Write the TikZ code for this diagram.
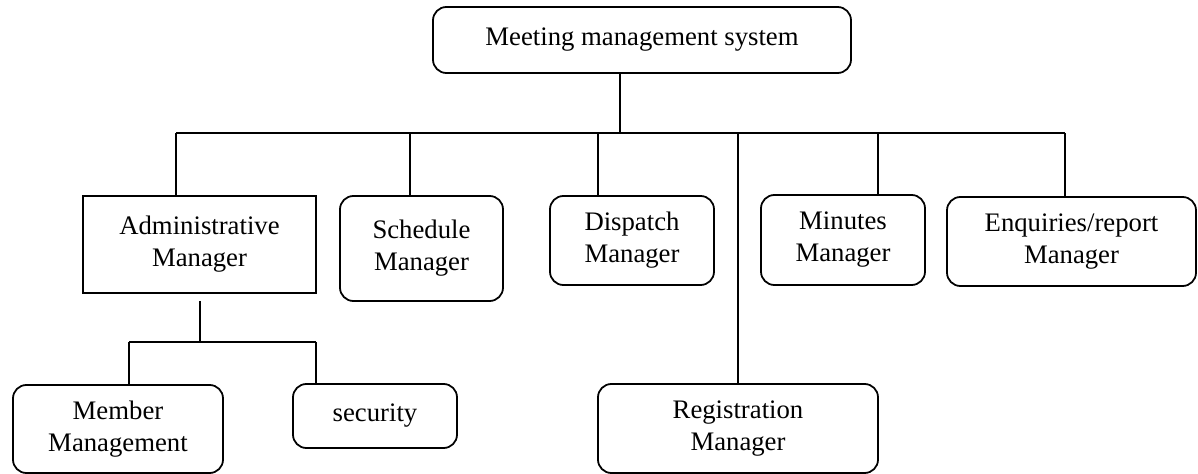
\documentclass[tikz,border=0pt]{standalone}
\usepackage{fontspec}
\setmainfont{Liberation Serif}

\begin{document}
\begin{tikzpicture}[
		x=0.449pt, y=-0.449pt,
		base/.style = {draw, line width=0.8pt, font=\fontsize{12}{14.4}\selectfont, align=center, inner sep=0pt},
		node/.style = {rectangle, base},
		rnode/.style = {rectangle, rounded corners=6pt, base},
		dims/.style 2 args = {minimum width=#1*0.449pt, minimum height=#2*0.449pt},
		link/.style = {line width=0.8pt}
		]
		\useasboundingbox (0,0) rectangle (1198,474);
		\node (sys) [rnode, dims={418}{66}] at (642,40) {Meeting management system};
		\node (admin) [node, dims={233}{97}] at (199.5,244.5) {Administrative\\Manager};
		\node (sched) [rnode, dims={163}{105}] at (421.5,248.5) {Schedule\\Manager};
		\node (disp) [rnode, dims={164}{89}] at (632,240.5) {Dispatch\\Manager};
		\node (minut) [rnode, dims={164}{90}] at (843,240) {Minutes\\Manager};
		\node (enq) [rnode, dims={249}{89}] at (1071.5,241.5) {Enquiries/report\\Manager};
		\node (reg) [rnode, dims={280}{89}] at (738,428.5) {Registration\\Manager};
		\node (member) [rnode, dims={210}{88}] at (118,429) {Member\\Management};
		\node (secur) [rnode, dims={164}{64}] at (375,416) {security};
		
		\coordinate (jsys) at (620,133);
		\foreach \n/\x in {admin/176, sched/410, disp/598, reg/738, minut/878, enq/1065}{
			\coordinate (j\n) at (\x,133);
			\draw[link] (j\n) -- (j\n |- \n.north);
		}
		\draw[link] (sys.south -| jsys) -- (jsys);
		\draw[link] (jadmin) -- (jenq);
		
		\coordinate (kstart) at (200,301);
		\coordinate (kadmin) at (200,342);
		\coordinate (kmember) at (129,342);
		\coordinate (ksecur) at (316,342);
		\draw[link] (kstart) -- (kadmin);
		\draw[link] (kmember) -- (ksecur);
		\draw[link] (kmember) -- (kmember |- member.north);
		\draw[link] (ksecur) -- (ksecur |- secur.north);
	\end{tikzpicture}
\end{document}
